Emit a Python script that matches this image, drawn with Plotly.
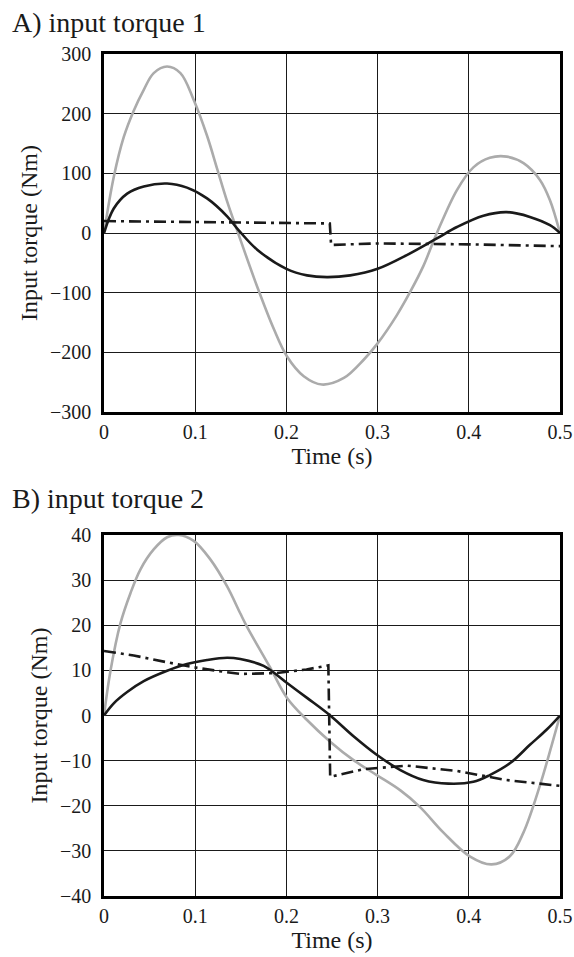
import plotly.graph_objects as go
from plotly.subplots import make_subplots

# ---------- Data ----------
# Plot A: input torque 1
tA_gray = [0.0, 0.0107, 0.0217, 0.0326, 0.0436, 0.0545, 0.0692, 0.0838, 0.0984, 0.113, 0.124, 0.135, 0.147,
           0.168, 0.186, 0.2007, 0.219, 0.239, 0.263, 0.285, 0.300, 0.321, 0.336, 0.350, 0.365,
           0.387, 0.405, 0.423, 0.4416, 0.46, 0.478, 0.489, 0.5]
yA_gray = [0, 94, 161, 205, 240, 268, 279, 268, 223, 163, 108, 53, 0,
           -90, -160, -207, -240, -254, -243, -212, -185, -138, -98, -56, 0,
           72, 110, 126, 128, 117, 89, 55, 0]

tA_black = [0.0, 0.0107, 0.0254, 0.0436, 0.0692, 0.091, 0.113, 0.135, 0.148, 0.168, 0.2, 0.2226, 0.2445,
            0.27, 0.3, 0.332, 0.365, 0.387, 0.416, 0.4416, 0.467, 0.489, 0.5]
yA_black = [0, 41, 66, 78, 83, 76, 58, 28, 4, -28, -60, -71, -74,
            -71, -60, -37, -9, 10, 29, 35, 27, 13, 0]

tA_dash = [0.0, 0.1, 0.2, 0.2476, 0.249, 0.3, 0.4, 0.5]
yA_dash = [20, 18.5, 16.5, 16, -20, -17.5, -19, -22]

# Plot B: input torque 2
tB_gray = [0.0, 0.0071, 0.018, 0.029, 0.040, 0.0545, 0.0692, 0.082, 0.0984, 0.1166, 0.135, 0.1495, 0.157,
           0.182, 0.2007, 0.2226, 0.248, 0.2736, 0.299, 0.325, 0.3466, 0.372, 0.401, 0.425, 0.445,
           0.46, 0.478, 0.491, 0.5]
yB_gray = [0, 9.9, 20.4, 27.1, 32.4, 36.8, 39.5, 40, 38.7, 34.6, 28.6, 22.6, 19.6,
           10.7, 3.9, -1.0, -5.8, -9.9, -13.2, -16.6, -20.3, -25.9, -31.2, -33, -31.2,
           -25.9, -15.5, -6.5, 0]

tB_black = [0.0, 0.0107, 0.0254, 0.0436, 0.0692, 0.091, 0.113, 0.135, 0.1495, 0.175, 0.2007, 0.2226, 0.248,
            0.2736, 0.299, 0.325, 0.350, 0.3776, 0.405, 0.423, 0.445, 0.467, 0.4855, 0.5]
yB_black = [0, 2.7, 5.2, 7.6, 9.9, 11.4, 12.3, 12.8, 12.5, 11.0, 7.2, 3.9, 0,
            -4.6, -8.7, -12.1, -14.3, -15.1, -14.7, -13.2, -10.6, -6.5, -3.1, 0]

tB_dash = [0.0, 0.0326, 0.069, 0.098, 0.124, 0.1495, 0.189, 0.222, 0.246, 0.248,
           0.2846, 0.332, 0.387, 0.441, 0.5]
yB_dash = [14.3, 13.3, 11.8, 10.7, 9.9, 9.2, 9.4, 10.2, 11.1, -13.6,
           -11.9, -11.1, -12.3, -14.3, -15.6]

x_ticks = [0, 0.1, 0.2, 0.3, 0.4, 0.5]
x_ticktext = ["0", "0.1", "0.2", "0.3", "0.4", "0.5"]
yA_ticks = [-300, -200, -100, 0, 100, 200, 300]
yA_ticktext = ["\u2212300", "\u2212200", "\u2212100", "0", "100", "200", "300"]
yB_ticks = [-40, -30, -20, -10, 0, 10, 20, 30, 40]
yB_ticktext = ["\u221240", "\u221230", "\u221220", "\u221210", "0", "10", "20", "30", "40"]

titles = ["A) input torque 1", "B) input torque 2"]
x_title = "Time (s)"
y_title = "Input torque (Nm)"

# ---------- Figure ----------
FONT = "Liberation Serif, Times New Roman, serif"
W, H = 574, 957
ml, mr, mt, mb = 104, 14, 54, 61
ph = H - mt - mb

fig = make_subplots(rows=2, cols=1)

GRAY = "#ababab"
BLK = "#1a1a1a"
LW = 2.6
dash = "12px,5px,3px,5px"

panels = [
    (1, tA_gray, yA_gray, tA_black, yA_black, tA_dash, yA_dash),
    (2, tB_gray, yB_gray, tB_black, yB_black, tB_dash, yB_dash),
]
for row, tg, yg, tb, yb, td, yd in panels:
    fig.add_trace(go.Scatter(x=tg, y=yg, mode="lines", line=dict(color=GRAY, width=LW, shape="spline", smoothing=1.0), showlegend=False), row=row, col=1)
    fig.add_trace(go.Scatter(x=tb, y=yb, mode="lines", line=dict(color=BLK, width=LW, shape="spline", smoothing=1.0), showlegend=False), row=row, col=1)
    fig.add_trace(go.Scatter(x=td, y=yd, mode="lines", line=dict(color=BLK, width=LW, dash=dash), showlegend=False), row=row, col=1)

def pix_to_paper(py):
    return (H - mb - py) / ph

domA = [pix_to_paper(412), 1.0]
domB = [0.0, pix_to_paper(535)]

axis_common = dict(
    showline=True, linecolor="black", linewidth=2.5, mirror=True,
    showgrid=True, gridcolor="#1a1a1a", gridwidth=1,
    zeroline=False, ticks="outside", tickcolor="rgba(0,0,0,0)",
    tickfont=dict(family=FONT, size=20, color="#1a1a1a"),
    automargin=False,
)

fig.update_xaxes(range=[0, 0.5], tickvals=x_ticks, ticktext=x_ticktext, ticklen=0,
                 title=dict(text=x_title, font=dict(family=FONT, size=24, color="#1a1a1a"), standoff=4),
                 **axis_common)
fig.update_yaxes(ticklen=6, title=dict(text=y_title, font=dict(family=FONT, size=24, color="#1a1a1a"), standoff=6), **axis_common)

fig.update_layout(
    yaxis=dict(domain=domA, range=[-300, 300], tickvals=yA_ticks, ticktext=yA_ticktext),
    yaxis2=dict(domain=domB, range=[-40, 40], tickvals=yB_ticks, ticktext=yB_ticktext),
)

ann = []
for title, py in zip(titles, [22, 498]):
    ann.append(dict(text=title, xref="paper", yref="paper", x=(10 - ml) / (W - ml - mr), y=pix_to_paper(py),
                    xanchor="left", yanchor="middle", showarrow=False,
                    font=dict(family=FONT, size=28, color="#1a1a1a")))

fig.update_layout(
    width=W, height=H, margin=dict(l=ml, r=mr, t=mt, b=mb),
    paper_bgcolor="white", plot_bgcolor="white",
    annotations=ann, showlegend=False,
)

fig.write_html("out.html")
